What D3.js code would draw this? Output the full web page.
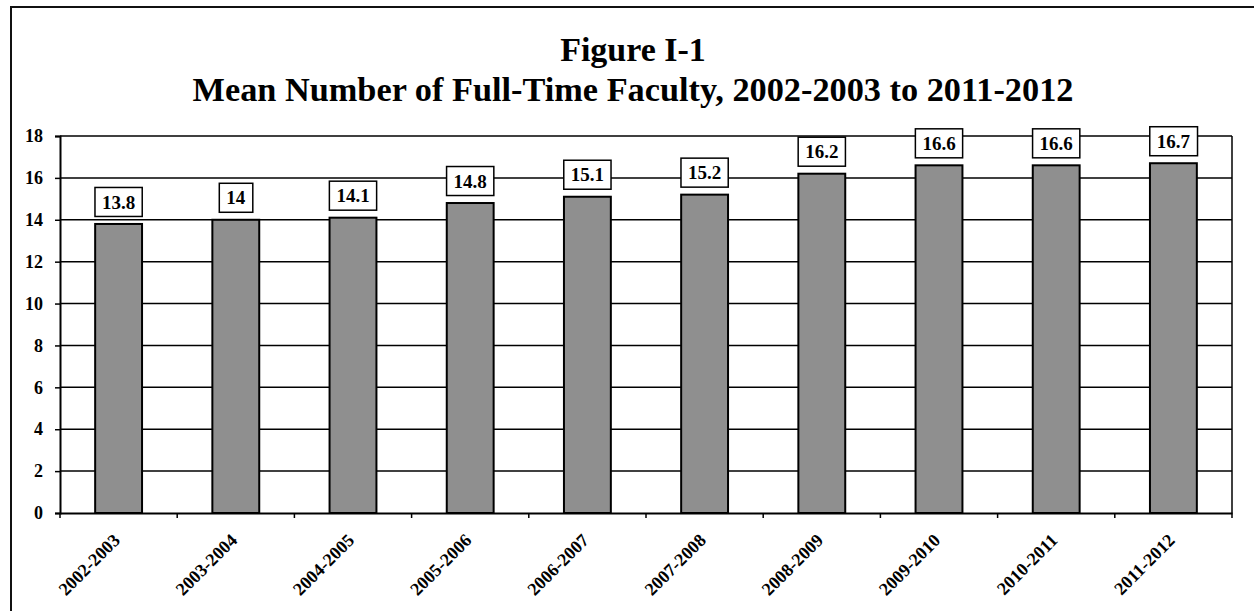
<!DOCTYPE html>
<html>
<head>
<meta charset="utf-8">
<script src="https://cdn.jsdelivr.net/npm/d3@7"></script>
<style>
  html, body { margin: 0; padding: 0; background: #fff; }
  svg { display: block; }
</style>
</head>
<body>
<svg id="chart" width="1254" height="611"></svg>
<script>
// ── Data ──────────────────────────────────────────────────────────────────
const years = ['2002-2003','2003-2004','2004-2005','2005-2006','2006-2007',
               '2007-2008','2008-2009','2009-2010','2010-2011','2011-2012'];
const meanFaculty = [13.8, 14, 14.1, 14.8, 15.1, 15.2, 16.2, 16.6, 16.6, 16.7];
const yTicks = [0, 2, 4, 6, 8, 10, 12, 14, 16, 18];
const titleLines = ['Figure I-1', 'Mean Number of Full-Time Faculty, 2002-2003 to 2011-2012'];

const FONT = 'Liberation Serif';

// ── Layout ────────────────────────────────────────────────────────────────
const svg = d3.select('#chart');
const plot = { left: 60, right: 1232, top: 136, bottom: 513 };

// outer frame (top + left only visible)
svg.append('path')
  .attr('d', 'M11,611 L11,7 L1254,7')
  .attr('fill', 'none').attr('stroke', '#111').attr('stroke-width', 2);

// title
svg.append('g').selectAll('text')
  .data(titleLines).join('text')
  .attr('x', 633)
  .attr('y', (d, i) => i === 0 ? 61 : 101)
  .attr('text-anchor', 'middle')
  .attr('font-family', FONT).attr('font-weight', 'bold')
  .attr('font-size', (d, i) => i === 0 ? '34px' : '34.3px')
  .attr('fill', '#000')
  .text(d => d);

const x = d3.scaleBand().domain(years).range([plot.left, plot.right]).paddingInner(0.6).paddingOuter(0.3);
const y = d3.scaleLinear().domain([0, 18]).range([plot.bottom, plot.top]);

// gridlines
svg.append('g').selectAll('line')
  .data(yTicks.filter(t => t > 0)).join('line')
  .attr('x1', plot.left).attr('x2', plot.right)
  .attr('y1', d => y(d)).attr('y2', d => y(d))
  .attr('stroke', '#000').attr('stroke-width', 1.5);

// right border of plot
svg.append('line')
  .attr('x1', plot.right).attr('x2', plot.right)
  .attr('y1', plot.top).attr('y2', plot.bottom)
  .attr('stroke', '#000').attr('stroke-width', 1.5);

// bars
svg.append('g').selectAll('rect')
  .data(meanFaculty).join('rect')
  .attr('x', (d, i) => x(years[i]))
  .attr('y', d => y(d))
  .attr('width', x.bandwidth())
  .attr('height', d => y(0) - y(d))
  .attr('fill', '#8f8f8f')
  .attr('stroke', '#000').attr('stroke-width', 2);

// y axis
const yAxis = svg.append('g')
  .attr('transform', `translate(${plot.left},0)`)
  .call(d3.axisLeft(y).tickValues(yTicks).tickSize(5).tickPadding(12));
yAxis.attr('font-family', FONT);
yAxis.select('.domain').attr('stroke', '#000').attr('stroke-width', 2);
yAxis.selectAll('.tick line').attr('stroke', '#000').attr('stroke-width', 1.5);
yAxis.selectAll('.tick text')
  .attr('font-family', FONT).attr('font-weight', 'bold')
  .attr('font-size', '18px').attr('fill', '#000');

// x axis
const xAxis = svg.append('g')
  .attr('transform', `translate(0,${plot.bottom})`)
  .call(d3.axisBottom(x).tickSize(0).tickSizeOuter(0));
xAxis.attr('font-family', FONT);
xAxis.select('.domain').attr('stroke', '#000').attr('stroke-width', 2);
xAxis.selectAll('.tick text')
  .attr('font-family', FONT).attr('font-weight', 'bold')
  .attr('font-size', '18px').attr('fill', '#000')
  .attr('text-anchor', 'end')
  .attr('transform', 'translate(-2,24) rotate(-45)')
  .attr('dy', '0.35em').attr('y', 0);

// x tick marks on band boundaries
const bounds = years.map(d => x(d) - x.step() * x.paddingInner() / 2).concat([plot.right]);
svg.append('g').selectAll('line')
  .data(bounds).join('line')
  .attr('x1', d => d).attr('x2', d => d)
  .attr('y1', plot.bottom).attr('y2', plot.bottom + 5)
  .attr('stroke', '#000').attr('stroke-width', 1.5);

// value labels in boxes
const labels = svg.append('g').selectAll('g')
  .data(meanFaculty).join('g')
  .attr('transform', (d, i) => `translate(${x(years[i]) + x.bandwidth() / 2},${y(d) - 22})`);

labels.append('text')
  .attr('text-anchor', 'middle')
  .attr('dy', '0.35em')
  .attr('font-family', FONT).attr('font-weight', 'bold')
  .attr('font-size', '19px')
  .attr('fill', '#000')
  .text(d => String(d));

labels.each(function () {
  const g = d3.select(this);
  const bb = g.select('text').node().getBBox();
  g.insert('rect', 'text')
    .attr('x', bb.x - 7).attr('y', -14.5)
    .attr('width', bb.width + 14).attr('height', 29)
    .attr('fill', '#fff').attr('stroke', '#000').attr('stroke-width', 1.5);
});
</script>
</body>
</html>
